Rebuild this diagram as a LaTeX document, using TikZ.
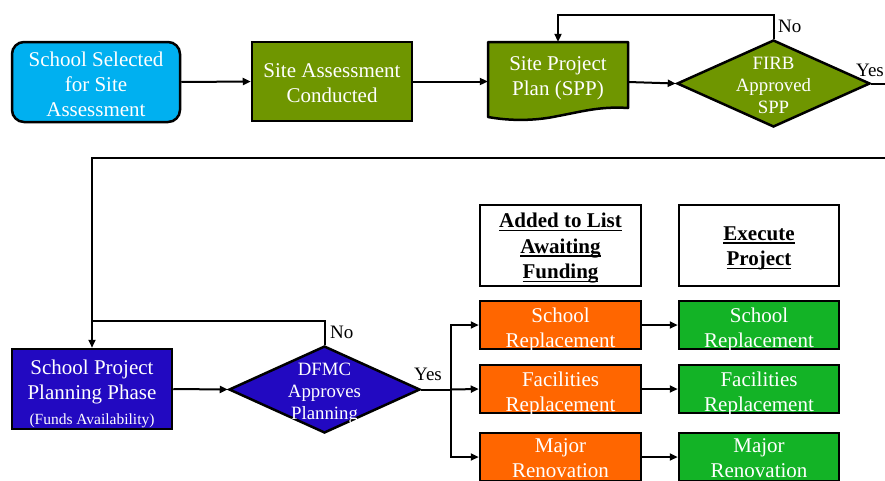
\documentclass[tikz,border=0pt]{standalone}
\usepackage{fontspec}
\setmainfont{Liberation Serif}
\usetikzlibrary{shapes.geometric,arrows.meta}
\definecolor{cyanbox}{HTML}{00B0F0}
\definecolor{olivebox}{HTML}{6F9600}
\definecolor{bluebox}{HTML}{2209C1}
\definecolor{orangebox}{HTML}{FF6600}
\definecolor{greenbox}{HTML}{13B326}
\newcommand{\ulbox}[1]{\setbox0\hbox{#1}\leavevmode\rlap{\rule[-3.5pt]{\wd0}{1.8pt}}\box0}
\begin{document}
\begin{tikzpicture}[x=1pt,y=-1pt,
  box/.style={draw=black, line width=2.5pt, inner sep=0pt},
  wtxt/.style={text=white, align=center, inner sep=0pt, font=\fontsize{21}{25}\selectfont},
  dtxt/.style={text=white, align=center, inner sep=0pt, font=\fontsize{18.8}{22}\selectfont},
  htxt/.style={text=black, align=center, inner sep=0pt, font=\bfseries\fontsize{21}{25.5}\selectfont},
  lbl/.style={text=black, inner sep=0pt, font=\fontsize{19}{22}\selectfont},
  dia/.style={diamond, draw=black, line width=2.5pt, inner sep=0pt},
  conn/.style={line width=2pt, draw=black},
  arr/.style={conn, -{Triangle[length=8pt,width=7pt]}}]
\clip (0,0) rectangle (885,480);
\fill[white] (0,0) rectangle (885,480);
% row 1
\node[box, fill=cyanbox, rounded corners=12pt, minimum width=168pt, minimum height=80pt,
  label={[wtxt, yshift=-2pt]center:School Selected\\for Site\\Assessment}] (sel) at (96,82) {};
\node[box, fill=olivebox, minimum width=160pt, minimum height=79pt,
  label={[wtxt, yshift=-2pt]center:Site Assessment\\Conducted}] (sac) at (332,81.5) {};
\filldraw[fill=olivebox, draw=black, line width=2.5pt, line join=round]
  (488,42) -- (628,42) -- (628,108) .. controls (600,106) and (580,112) .. (558,116)
  .. controls (535,121) and (510,121) .. (488,117) -- cycle;
\node[inner sep=0pt, minimum width=140pt, minimum height=80pt,
  label={[wtxt, yshift=4pt]center:Site Project\\Plan (SPP)}] (spp) at (558,82) {};
\node[dia, fill=olivebox, minimum width=193pt, minimum height=87pt,
  label={[dtxt, yshift=-1.5pt]center:FIRB\\Approved\\SPP}] (firb) at (773.5,83.5) {};
% row 2
\node[box, fill=bluebox, minimum width=160pt, minimum height=80pt,
  label={[wtxt, yshift=-5pt]center:School Project\\Planning Phase\\{\fontsize{15.5}{20}\selectfont (Funds Availability)}}] (spph) at (92,389) {};
\node[dia, fill=bluebox, minimum width=191pt, minimum height=87pt,
  label={[dtxt, yshift=-4pt]center:DFMC\\Approves\\Planning}] (dfmc) at (324.5,389.5) {};
% headers
\node[box, fill=white, minimum width=161pt, minimum height=81pt,
  label={[htxt, yshift=-3pt]center:\ulbox{Added to List}\\\ulbox{Awaiting}\\\ulbox{Funding}}] (h1) at (560.5,245.5) {};
\node[box, fill=white, minimum width=160pt, minimum height=81pt,
  label={[htxt, yshift=-3pt]center:\ulbox{Execute}\\\ulbox{Project}}] (h2) at (759,245.5) {};
% orange
\node[box, fill=orangebox, minimum width=161pt, minimum height=48pt,
  label={[wtxt, yshift=-4.5pt]center:School\\Replacement}] (o1) at (560.5,325) {};
\node[box, fill=orangebox, minimum width=161pt, minimum height=48pt,
  label={[wtxt, yshift=-4.5pt]center:Facilities\\Replacement}] (o2) at (560.5,389) {};
\node[box, fill=orangebox, minimum width=161pt, minimum height=48pt,
  label={[wtxt, yshift=-1.5pt]center:Major\\Renovation}] (o3) at (560.5,457) {};
% green
\node[box, fill=greenbox, minimum width=160pt, minimum height=48pt,
  label={[wtxt, yshift=-4.5pt]center:School\\Replacement}] (g1) at (759,325) {};
\node[box, fill=greenbox, minimum width=160pt, minimum height=48pt,
  label={[wtxt, yshift=-4.5pt]center:Facilities\\Replacement}] (g2) at (759,389) {};
\node[box, fill=greenbox, minimum width=160pt, minimum height=48pt,
  label={[wtxt, yshift=-1.5pt]center:Major\\Renovation}] (g3) at (759,457) {};
% connectors row 1
\draw[arr] (sel.east) -- (sac.west);
\draw[arr] (sac.east) -- (sac.east -| spp.west);
\draw[arr] (spp.east) -- (firb.west);
\coordinate (n1) at (773.5,15);
\draw[arr] (firb.north) -- (n1) -| (spp.north);
\node[lbl, anchor=west] (no1) at (778,26) {No};
\node[lbl] (yes1) at (870,70) {Yes};
\coordinate (r1) at (900,83.5);
\coordinate (r2) at (900,158);
\draw[arr] (firb.east) -- (r1) -- (r2) -| (spph.north);
% connectors row 2
\draw[arr] (spph.east) -- (dfmc.west);
\coordinate (n2) at (324.5,321);
\coordinate (j2) at (92,321);
\draw[conn] (dfmc.north) -- (n2) -- (j2);
\node[lbl, anchor=west] (no2) at (330,332) {No};
\node[lbl] (yes2) at (428,374) {Yes};
\coordinate (br) at (451,389.5);
\draw[conn] (dfmc.east) -- (br);
\draw[arr] (br) |- (o1.west);
\draw[arr] (br) -- (o2.west);
\draw[arr] (br) |- (o3.west);
\draw[arr] (o1.east) -- (g1.west);
\draw[arr] (o2.east) -- (g2.west);
\draw[arr] (o3.east) -- (g3.west);
\end{tikzpicture}
\end{document}
